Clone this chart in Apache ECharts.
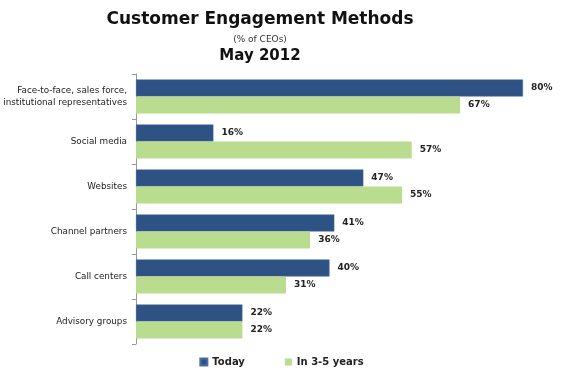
<!DOCTYPE html>
<html>
<head>
<meta charset="utf-8">
<script src="https://cdn.jsdelivr.net/npm/echarts@6/dist/echarts.min.js"></script>
<style>
html,body{margin:0;padding:0;background:#fff}
#Chart{width:563px;height:377px}
</style>
</head>
<body>
<div id="Chart"></div>
<script>
var categories=['Face-to-face, sales force,\ninstitutional representatives','Social media','Websites','Channel partners','Call centers','Advisory groups']
var today=[80,16,47,41,40,22]
var future=[67,57,55,36,31,22]
var seriesNames=['Today','In 3-5 years']

//图表
function drawChar(){
    var myChart = echarts.init(document.getElementById('Chart'));
    var labelStyle={
        show:true,
        position:'right',
        distance:8,
        formatter:'{c}%',
        fontFamily:'DejaVu Sans',
        fontWeight:'bold',
        fontSize:9,
        color:'#222'
    }
    var option = {
        animation:false,
        title:[
            {text:'Customer Engagement Methods',left:255,top:6,textAlign:'center',
             textStyle:{fontFamily:'DejaVu Sans',fontWeight:'bold',fontSize:17,color:'#111'}},
            {text:'(% of CEOs)',left:255,top:30,textAlign:'center',
             textStyle:{fontFamily:'DejaVu Sans',fontWeight:'normal',fontSize:9,color:'#333'}},
            {text:'May 2012',left:255,top:44,textAlign:'center',
             textStyle:{fontFamily:'DejaVu Sans',fontWeight:'bold',fontSize:15,color:'#111'}}
        ],
        legend:{
            bottom:5,
            left:'center',
            itemWidth:7,
            itemHeight:7,
            itemGap:40,
            icon:'rect',
            textStyle:{fontFamily:'DejaVu Sans',fontWeight:'bold',fontSize:10,color:'#222'},
            data:seriesNames
        },
        grid:{left:136,right:40,top:74,bottom:33},
        xAxis:{
            type:'value',
            min:0,
            max:80,
            show:false
        },
        yAxis:{
            type:'category',
            inverse:true,
            data:categories,
            axisLine:{lineStyle:{color:'#999'}},
            axisTick:{show:true,length:4,lineStyle:{color:'#999'}},
            axisLabel:{fontFamily:'DejaVu Sans',fontSize:8.8,color:'#222',margin:9,lineHeight:12}
        },
        series:[
            {name:seriesNames[0],type:'bar',data:today,barWidth:17,barGap:'0%',
             itemStyle:{color:'#2D5283',borderColor:'#4a6f9c',borderWidth:0.5},label:labelStyle},
            {name:seriesNames[1],type:'bar',data:future,barWidth:17,
             itemStyle:{color:'#B9DC8E'},label:labelStyle}
        ]
    };
    myChart.setOption(option);
}

drawChar()
</script>
</body>
</html>
